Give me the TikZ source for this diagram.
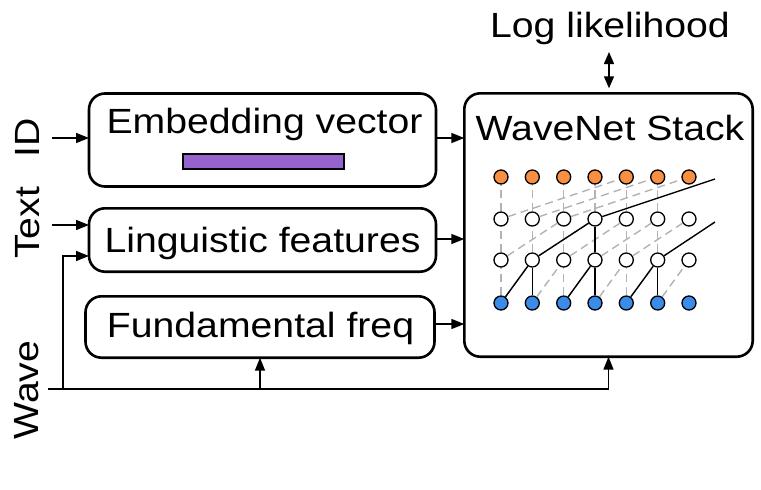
\documentclass[tikz,border=0pt]{standalone}
\usepackage{fontspec}
\setmainfont{Liberation Sans}[FakeStretch=1.12]
\usetikzlibrary{arrows.meta}
\definecolor{dotorange}{RGB}{248,143,66}
\definecolor{dotblue}{RGB}{59,139,232}
\definecolor{barpurple}{RGB}{150,98,204}
\begin{document}
\begin{tikzpicture}[x=1pt,y=-1pt,
  box/.style={draw, line width=2.6pt, rounded corners=16pt, inner sep=0pt, outer sep=0pt},
  lbl/.style={inner sep=0pt, anchor=base, font=\fontsize{35}{40}\selectfont},
  arr/.style={line width=1.5pt, -{Triangle[length=13pt,width=10pt]}},
  darr/.style={line width=1.5pt, {Triangle[length=12pt,width=10pt]}-{Triangle[length=12pt,width=10pt]}},
  dot/.style={circle, draw, line width=1.3pt, minimum size=14pt, inner sep=0pt},
  gl/.style={draw=gray!60, line width=1.4pt, dash pattern=on 8pt off 5pt},
  bl/.style={draw=black, line width=1.4pt}]
\useasboundingbox (0,0) rectangle (761,490);

% boxes
\node[box, minimum width=347pt, minimum height=93pt] (emb) at (262.5,140) {};
\node[box, minimum width=347pt, minimum height=63.4pt] (ling) at (262.5,240) {};
\node[box, minimum width=349pt, minimum height=61.4pt] (fund) at (260,327) {};
\node[box, minimum width=288.4pt, minimum height=263.4pt] (wn) at (608.5,225) {};
\node[draw, line width=2pt, fill=barpurple, minimum width=161pt, minimum height=15pt, inner sep=0pt] (bar) at (263,161) {};

% texts
\node[lbl] (embt) at (264.5,133) {Embedding vector};
\node[lbl] (lingt) at (262.5,252) {Linguistic features};
\node[lbl] (fundt) at (260.5,337) {Fundamental freq};
\node[lbl] (wnt) at (610,140) {WaveNet Stack};
\node[lbl] (llt) at (610,37) {Log likelihood};
\node[lbl, rotate=90] (idt) at (39,138) {ID};
\node[lbl, rotate=90] (textt) at (39,223) {Text};
\node[lbl, rotate=90] (wavet) at (38,390) {Wave};

% arrows into WaveNet
\draw[arr] ([yshift=2pt]emb.east) -- ([yshift=2pt]emb.east -| wn.west);
\draw[arr] ([yshift=1pt]ling.east) -- ([yshift=1pt]ling.east -| wn.west);
\draw[arr] ([yshift=3pt]fund.east) -- ([yshift=3pt]fund.east -| wn.west);

% input arrows
\coordinate (idsrc) at (52,138);
\coordinate (textsrc) at (52,225);
\draw[arr] (idsrc) -- (idsrc -| emb.west);
\draw[arr] (textsrc) -- (textsrc -| ling.west);

% wave line
\coordinate (wvstart) at (48,389);
\coordinate (branch) at (63,389);
\coordinate (lingin) at ([yshift=-16pt]ling.west);
\draw[line width=1.5pt] (wvstart) -- (wn.south |- wvstart);
\draw[arr] (wn.south |- wvstart) -- (wn.south);
\draw[arr] (fund.south |- wvstart) -- (fund.south);
\draw[arr] (branch) |- (lingin);

% log likelihood
\coordinate (lltop) at (609,52);
\draw[darr, shorten >=5pt] (lltop) -- (lltop |- wn.north);

% grid of dots
\foreach \i/\x in {0/501,1/532.3,2/563.7,3/595,4/626.3,5/657.7,6/689}{
  \node[dot, fill=dotblue] (b\i) at (\x,303) {};
  \node[dot, fill=white] (m\i) at (\x,260) {};
  \node[dot, fill=white] (u\i) at (\x,219) {};
  \node[dot, fill=dotorange] (t\i) at (\x,177) {};
}
% gray verticals
\foreach \i in {0,...,5}{
  \draw[gl] (b\i) -- (m\i);
  \draw[gl] (m\i) -- (u\i);
  \draw[gl] (u\i) -- (t\i);
}
% gray diagonals
\foreach \k [evaluate=\k as \n using int(\k+1)] in {0,...,5}{
  \draw[gl] (b\k) -- (m\n);
}
\foreach \k [evaluate=\k as \n using int(\k+2)] in {0,...,4}{
  \draw[gl] (m\k) -- (u\n);
}
\foreach \k [evaluate=\k as \n using int(\k+4)] in {0,...,2}{
  \draw[gl] (u\k) -- (t\n);
}
% black paths
\coordinate (o1) at (715,179);
\coordinate (o2) at (715,222);
\draw[bl] (b0) -- (m1);
\draw[bl] (b1) -- (m1);
\draw[bl] (b2) -- (m3);
\draw[bl] (b3) -- (m3);
\draw[bl] (b4) -- (m5);
\draw[bl] (b5) -- (m5);
\draw[bl] (m1) -- (u3);
\draw[bl] (m3) -- (u3);
\draw[bl] (u3) -- (o1);
\draw[bl] (m5) -- (o2);
\end{tikzpicture}
\end{document}
